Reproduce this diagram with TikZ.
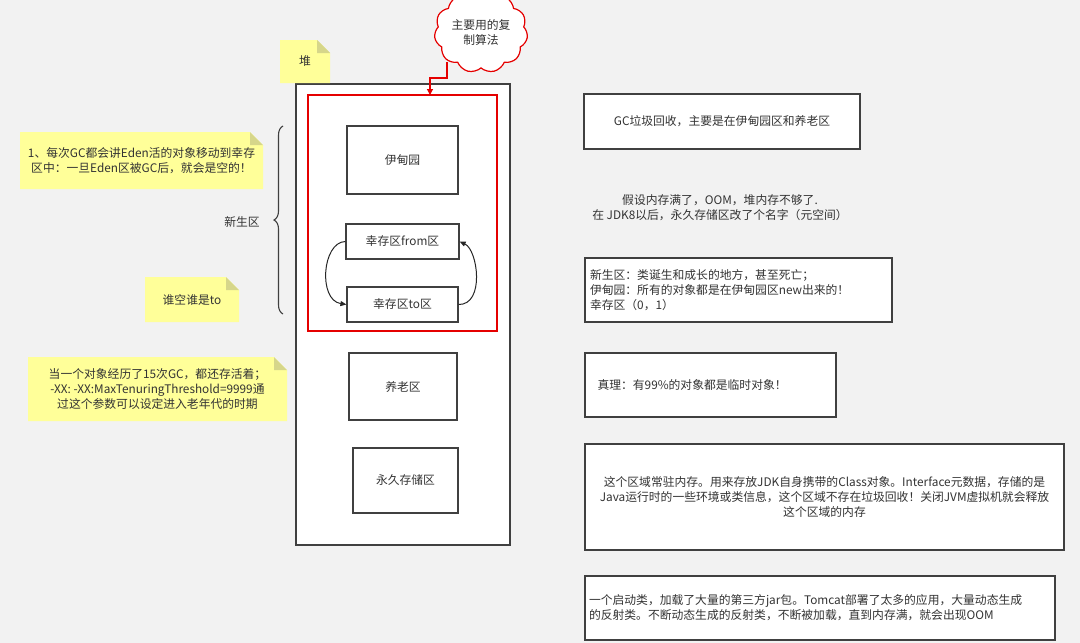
\documentclass[tikz,border=0pt]{standalone}
\usepackage{fontspec}
\setmainfont{Noto Sans CJK SC}
\usetikzlibrary{shapes.symbols,decorations.pathreplacing,arrows.meta}
\definecolor{notey}{HTML}{FFFF99}
\definecolor{notefold}{HTML}{D6D68A}
\definecolor{txt}{HTML}{333333}
\tikzset{
  box/.style={draw=black!75,line width=1.2pt,fill=white},
  lbl/.style={font=\fontsize{11.8pt}{15pt}\selectfont,text=txt,align=center,inner sep=0pt},
  lbll/.style={font=\fontsize{11.8pt}{15pt}\selectfont,text=txt,align=left},
}
\newcommand{\notebox}[5]{% name, x1,y1,x2,y2
  \fill[notey] (#2,#3) -- (#4-13,#3) -- (#4,#3+13) -- (#4,#5) -- (#2,#5) -- cycle;
  \fill[notefold] (#4-13,#3) -- (#4,#3+13) -- (#4-13,#3+13) -- cycle;
  \coordinate (#1) at ({(#2+#4)/2},{(#3+#5)/2});
}
\begin{document}
\begin{tikzpicture}[x=1pt,y=-1pt]
\fill[black!5] (0,0) rectangle (1080,643);
\useasboundingbox (0,0) rectangle (1080,643);
% heap
\draw[box] (296,84) rectangle (510,545);
\draw[red!90!black,line width=1.2pt,fill=white] (308,95) rectangle (497,331);
\node[box,lbl,minimum width=111pt,minimum height=68pt] (eden) at (402.5,160) {伊甸园};
\node[box,lbl,minimum width=113pt,minimum height=35pt] (from) at (402.5,241.5) {幸存区from区};
\node[box,lbl,minimum width=111pt,minimum height=35pt] (to) at (402.5,304.5) {幸存区to区};
\node[box,lbl,minimum width=108pt,minimum height=67pt] (old) at (403,386.5) {养老区};
\node[box,lbl,minimum width=105pt,minimum height=65pt] (perm) at (405.5,480.5) {永久存储区};
\draw[-{Triangle[length=6pt,width=5pt]},line width=1pt,black!85] (from.west) .. controls (322,242) and (318,300) .. (to.west);
\draw[-{Triangle[length=6pt,width=5pt]},line width=1pt,black!85] (to.east) .. controls (485,305) and (478,250) .. (from.east);
% notes
\notebox{n0}{280}{40}{330}{83}
\node[lbl] at (n0) {堆};
\notebox{n1}{20}{132}{263}{189}
\node[lbl] at (n1) {1、每次GC都会讲Eden活的对象移动到幸存\\区中：一旦Eden区被GC后，就会是空的！};
\notebox{n2}{145}{277}{239}{322}
\node[lbl] at (n2) {谁空谁是to};
\notebox{n3}{28}{357}{287}{421}
\node[lbl] at (n3) {当一个对象经历了15次GC，都还存活着；\\-XX: -XX:MaxTenuringThreshold=9999通\\过这个参数可以设定进入老年代的时期};
% brace
\draw[decorate,decoration={brace,amplitude=9pt},line width=1.1pt,black!75] (283,314) -- (283,126);
\node[lbl] (xsq) at (242,222) {新生区};
% cloud
\node[cloud,cloud puffs=11,cloud puff arc=110,aspect=1.2,draw=red!90!black,line width=1.2pt,fill=white,lbl,inner sep=1pt,minimum width=88pt,minimum height=64pt] (cloud) at (481,32) {主要用的复\\制算法};
\coordinate (ctop) at (430,95);
\draw[red!90!black,line width=1.2pt,-{Triangle[length=6pt,width=6pt]}] (447,62) -- (447,78) -- (430,78) -- (ctop);
% right
\node[box,lbl,minimum width=276pt,minimum height=55pt] (gc) at (722,121.5) {GC垃圾回收，主要是在伊甸园区和养老区};
\node[lbl] (oom) at (720,208) {假设内存满了，OOM，堆内存不够了.\\在 JDK8以后，永久存储区改了个名字（元空间）};
\node[box,lbll,minimum width=307pt,minimum height=64pt,text width=297pt] (xs) at (738.5,290) {新生区：类诞生和成长的地方，甚至死亡；\\伊甸园：所有的对象都是在伊甸园区new出来的！\\幸存区（0，1）};
\node[box,lbll,minimum width=251pt,minimum height=64pt,text width=226pt] (zl) at (710.5,385) {真理：有99\%的对象都是临时对象！};
\node[box,lbl,minimum width=479pt,minimum height=106pt,text width=470pt] (perm2) at (824.5,497) {这个区域常驻内存。用来存放JDK自身携带的Class对象。Interface元数据，存储的是\\Java运行时的一些环境或类信息，这个区域不存在垃圾回收！关闭JVM虚拟机就会释放\\这个区域的内存};
\node[box,lbll,minimum width=470pt,minimum height=64pt,text width=462pt] (boot) at (820,608) {一个启动类，加载了大量的第三方jar包。Tomcat部署了太多的应用，大量动态生成\\的反射类。不断动态生成的反射类，不断被加载，直到内存满，就会出现OOM};
\end{tikzpicture}
\end{document}
